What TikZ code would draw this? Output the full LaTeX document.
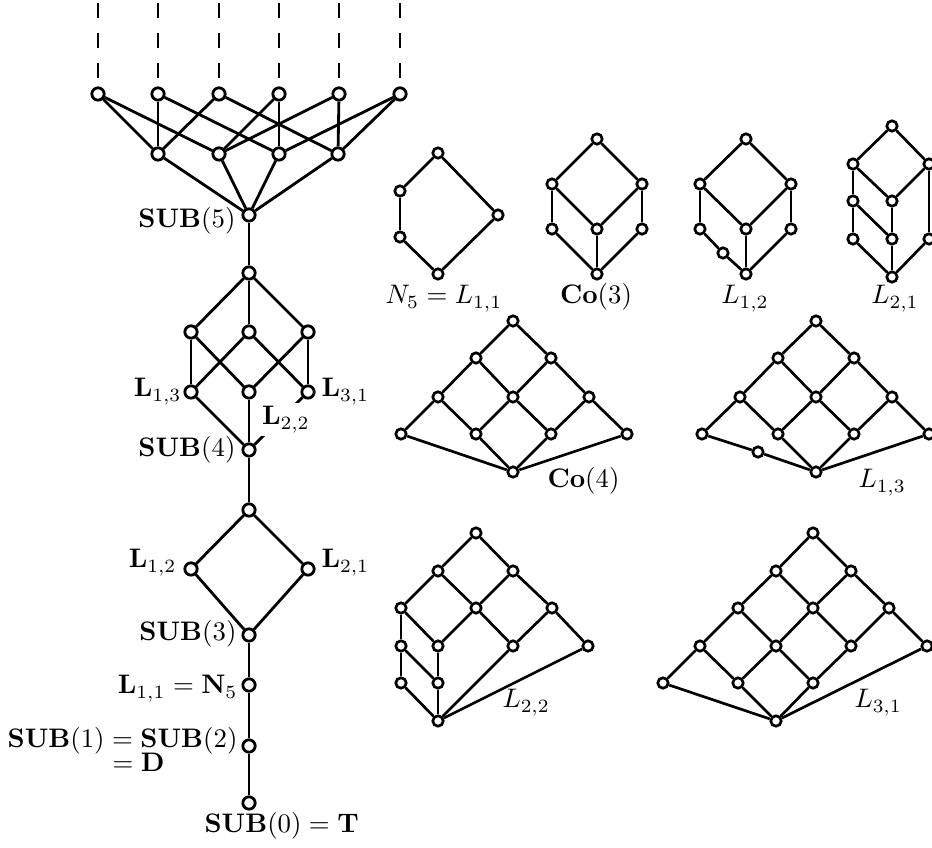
\documentclass[tikz,border=0pt]{standalone}
\begin{document}
\begin{tikzpicture}[x=0.373pt,y=-0.373pt,
  v/.style={circle,draw,fill=white,line width=1.05pt,minimum size=4.6pt,inner sep=0pt},
  e/.style={line width=1.05pt},
  sv/.style={circle,draw,fill=white,line width=1pt,minimum size=3.9pt,inner sep=0pt},
  se/.style={line width=1pt},
  dsh/.style={line width=1.05pt,dash pattern=on 5.6pt off 5.6pt},
  lab/.style={inner sep=0pt}]
\useasboundingbox (0,0) rectangle (932,848);
% ---------- left chain ----------
\foreach \n/\x in {1/98,2/158,3/219,4/279,5/339,6/400}{
  \node[v] (a\n) at (\x,94) {};
  \coordinate (da\n) at (\x,78);
  \coordinate (db\n) at (\x,0);
}
\foreach \n/\x in {1/158,2/219,3/279,4/338}{ \node[v] (b\n) at (\x,154) {}; }
\node[v] (s5) at (249,215) {};
\node[v] (c0) at (249,273) {};
\node[v] (m1) at (191,332) {};
\node[v] (m2) at (249,332) {};
\node[v] (m3) at (308,332) {};
\node[v] (l1) at (191,392) {};
\node[v] (l2) at (249,392) {};
\node[v] (l3) at (308,392) {};
\node[v] (s4) at (249,450) {};
\node[v] (d0) at (249,510) {};
\node[v] (dl) at (191,569) {};
\node[v] (dr) at (308,569) {};
\node[v] (s3) at (249,635) {};
\node[v] (n5) at (249,685) {};
\node[v] (s1) at (249,746) {};
\node[v] (s0) at (249,803) {};
\foreach \n in {1,...,6}{ \draw[dsh] (da\n) -- (db\n); }
\foreach \p/\q in {a1/b1,a1/b2,a2/b1,a2/b3,a3/b1,a3/b4,a4/b2,a4/b3,a5/b2,a5/b4,a6/b3,a6/b4,
  b1/s5,b2/s5,b3/s5,b4/s5,s5/c0,c0/m1,c0/m2,c0/m3,m1/l1,m1/l2,m2/l1,m2/l3,m3/l2,m3/l3,
  l1/s4,l2/s4,l3/s4,s4/d0,d0/dl,d0/dr,dl/s3,dr/s3,s3/n5,n5/s1,s1/s0}
  { \draw[e] (\p) -- (\q); }
% labels left
\node[lab,anchor=base east] (ls5) at (236,228) {$\mathbf{SUB}(5)$};
\node[lab,anchor=base east] (ll13) at (182,397) {$\mathbf{L}_{1,3}$};
\node[lab,anchor=base west] (ll31) at (321,397) {$\mathbf{L}_{3,1}$};
\node[fill=white,inner sep=1.3pt,anchor=base west] (ll22) at (258,425) {$\mathbf{L}_{2,2}$};
\node[lab,anchor=base east] (ls4) at (236,457) {$\mathbf{SUB}(4)$};
\node[lab,anchor=base east] (ll12) at (177,568) {$\mathbf{L}_{1,2}$};
\node[lab,anchor=base west] (ll21) at (321,568) {$\mathbf{L}_{2,1}$};
\node[lab,anchor=base east] (ls3) at (237,641) {$\mathbf{SUB}(3)$};
\node[lab,anchor=base east] (ln5) at (238,694) {$\mathbf{L}_{1,1}=\mathbf{N}_5$};
\node[lab,anchor=base east] (ls1) at (238,748) {$\mathbf{SUB}(1)=\mathbf{SUB}(2)$};
\node[lab,anchor=base west] (ld) at (112,772) {$=\mathbf{D}$};
\node[lab,anchor=base west] (ls0) at (204,833) {$\mathbf{SUB}(0)=\mathbf{T}$};
% ---------- N5 ----------
\node[sv] (pt) at (438,153) {};
\node[sv] (pu) at (400,191) {};
\node[sv] (pl) at (400,237) {};
\node[sv] (pr) at (498,215) {};
\node[sv] (pb) at (438,274) {};
\foreach \p/\q in {pt/pu,pu/pl,pl/pb,pt/pr,pr/pb}{ \draw[se] (\p) -- (\q); }
\node[lab,anchor=base] (lp) at (444,304) {$N_5=L_{1,1}$};
% ---------- Co(3) ----------
\node[sv] (qt) at (597,139) {};
\node[sv] (ql) at (552,184) {};
\node[sv] (qr) at (642,184) {};
\node[sv] (qm) at (597,229) {};
\node[sv] (qll) at (552,229) {};
\node[sv] (qrl) at (642,229) {};
\node[sv] (qb) at (597,274) {};
\foreach \p/\q in {qt/ql,qt/qr,ql/qm,qr/qm,ql/qll,qr/qrl,qll/qb,qm/qb,qrl/qb}{ \draw[se] (\p) -- (\q); }
\node[lab,anchor=base] (lq) at (596,304) {$\mathbf{Co}(3)$};
% ---------- L12 ----------
\node[sv] (rt) at (746,139) {};
\node[sv] (rl) at (700,184) {};
\node[sv] (rr) at (791,184) {};
\node[sv] (rm) at (746,229) {};
\node[sv] (rll) at (700,229) {};
\node[sv] (rrl) at (791,229) {};
\node[sv] (rx) at (723,253) {};
\node[sv] (rb) at (746,274) {};
\foreach \p/\q in {rt/rl,rt/rr,rl/rm,rr/rm,rl/rll,rr/rrl,rll/rx,rx/rb,rm/rb,rrl/rb}{ \draw[se] (\p) -- (\q); }
\node[lab,anchor=base] (lr) at (745,304) {$L_{1,2}$};
% ---------- L21 ----------
\node[sv] (ut) at (892,126) {};
\node[sv] (ul) at (853,164) {};
\node[sv] (ur) at (929,164) {};
\node[sv] (um1) at (892,201) {};
\node[sv] (ul2) at (853,201) {};
\node[sv] (um2) at (892,239) {};
\node[sv] (ul3) at (853,239) {};
\node[sv] (url) at (929,239) {};
\node[sv] (ub) at (892,277) {};
\foreach \p/\q in {ut/ul,ut/ur,ul/um1,ur/um1,ul/ul2,ul2/um2,um1/um2,ul2/ul3,ul3/ub,um2/ub,ur/url,url/ub}{ \draw[se] (\p) -- (\q); }
\node[lab,anchor=base] (lu) at (895,304) {$L_{2,1}$};
% ---------- Co(4) ----------
\node[sv] (wt) at (513,321) {};
\node[sv] (w21) at (476,358) {};
\node[sv] (w22) at (551,358) {};
\node[sv] (w31) at (438,397) {};
\node[sv] (w32) at (513,397) {};
\node[sv] (w33) at (589,397) {};
\node[sv] (w41) at (401,434) {};
\node[sv] (w42) at (476,434) {};
\node[sv] (w43) at (551,434) {};
\node[sv] (w44) at (627,434) {};
\node[sv] (wb) at (513,472) {};
\foreach \p/\q in {wt/w21,wt/w22,w21/w31,w21/w32,w22/w32,w22/w33,w31/w41,w31/w42,w32/w42,w32/w43,w33/w43,w33/w44,w41/wb,w42/wb,w43/wb,w44/wb}{ \draw[se] (\p) -- (\q); }
\node[lab,anchor=base west] (lw) at (547,488) {$\mathbf{Co}(4)$};
% ---------- L13 ----------
\node[sv] (xt) at (816,321) {};
\node[sv] (x21) at (778,358) {};
\node[sv] (x22) at (854,358) {};
\node[sv] (x31) at (740,397) {};
\node[sv] (x32) at (816,397) {};
\node[sv] (x33) at (892,397) {};
\node[sv] (x41) at (702,434) {};
\node[sv] (x42) at (778,434) {};
\node[sv] (x43) at (854,434) {};
\node[sv] (x44) at (929,434) {};
\node[sv] (xe) at (758,452) {};
\node[sv] (xb) at (816,472) {};
\foreach \p/\q in {xt/x21,xt/x22,x21/x31,x21/x32,x22/x32,x22/x33,x31/x41,x31/x42,x32/x42,x32/x43,x33/x43,x33/x44,x41/xe,xe/xb,x42/xb,x43/xb,x44/xb}{ \draw[se] (\p) -- (\q); }
\node[lab,anchor=base west] (lx) at (858,488) {$L_{1,3}$};
% ---------- L22 ----------
\node[sv] (yt) at (476,533) {};
\node[sv] (y21) at (438,571) {};
\node[sv] (y22) at (513,571) {};
\node[sv] (y31) at (401,608) {};
\node[sv] (y32) at (476,608) {};
\node[sv] (y33) at (552,608) {};
\node[sv] (y41) at (401,646) {};
\node[sv] (y42) at (438,646) {};
\node[sv] (y43) at (513,646) {};
\node[sv] (y44) at (588,646) {};
\node[sv] (y51) at (401,683) {};
\node[sv] (y52) at (438,683) {};
\node[sv] (yb) at (438,721) {};
\foreach \p/\q in {yt/y21,yt/y22,y21/y31,y21/y32,y22/y32,y22/y33,y31/y41,y31/y42,y32/y42,y32/y43,y33/y43,y33/y44,y41/y51,y41/y52,y42/y52,y51/yb,y52/yb,y43/yb,y44/yb}{ \draw[se] (\p) -- (\q); }
\node[lab,anchor=base west] (ly) at (502,708) {$L_{2,2}$};
% ---------- L31 ----------
\node[sv] (zt) at (813,533) {};
\node[sv] (z21) at (776,571) {};
\node[sv] (z22) at (851,571) {};
\node[sv] (z31) at (738,608) {};
\node[sv] (z32) at (813,608) {};
\node[sv] (z33) at (889,608) {};
\node[sv] (z41) at (700,646) {};
\node[sv] (z42) at (776,646) {};
\node[sv] (z43) at (851,646) {};
\node[sv] (z44) at (927,646) {};
\node[sv] (z51) at (663,683) {};
\node[sv] (z52) at (738,683) {};
\node[sv] (z53) at (813,683) {};
\node[sv] (zb) at (776,721) {};
\foreach \p/\q in {zt/z21,zt/z22,z21/z31,z21/z32,z22/z32,z22/z33,z31/z41,z31/z42,z32/z42,z32/z43,z33/z43,z33/z44,z41/z51,z41/z52,z42/z52,z42/z53,z43/z53,z51/zb,z52/zb,z53/zb,z44/zb}{ \draw[se] (\p) -- (\q); }
\node[lab,anchor=base west] (lz) at (854,708) {$L_{3,1}$};
\end{tikzpicture}
\end{document}
